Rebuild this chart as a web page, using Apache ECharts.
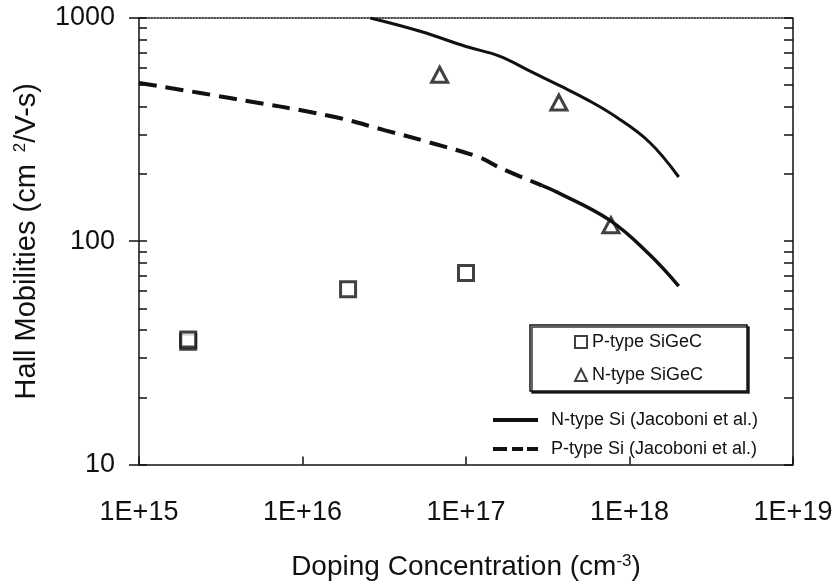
<!DOCTYPE html>
<html>
<head>
<meta charset="utf-8">
<script src="https://cdn.jsdelivr.net/npm/echarts@6/dist/echarts.min.js"></script>
<style>
  html, body { margin: 0; padding: 0; background: #fff; }
  #chart { width: 838px; height: 586px; }
</style>
</head>
<body>
<div id="chart"></div>
<script>
// measured points, SiGeC
var pSiGeCX = [2e15, 2e15, 1.9e16, 1e17];
var pSiGeCY = [35.5, 36.3, 61, 72];
var nSiGeCX = [6.9e16, 3.7e17, 7.7e17];
var nSiGeCY = [557, 418, 118];

// Jacoboni et al. curves for Si
var nSiX = [2.6e16, 5.3e16, 1.0e17, 1.6e17, 2.5e17, 3.8e17, 5.5e17, 8.3e17, 1.33e18, 2.0e18];
var nSiY = [1000, 870, 745, 675, 575, 495, 431, 360, 277, 194];
var pSiX = [1e15, 3.6e15, 1.5e16, 3.2e16, 6e16, 1.22e17, 1.6e17, 2.9e17];
var pSiY = [512, 438, 363, 314, 277, 237, 214, 178];
// tail of the P-type curve, drawn solid in the original
var pSiTailX = [2.9e17, 3.6e17, 7.6e17, 1.33e18, 2.0e18];
var pSiTailY = [178, 166, 124, 87, 63];

// axis ticks
var xTicks = [1e15, 1e16, 1e17, 1e18, 1e19];
var yMajor = [10, 100, 1000];
var yAll = [10, 20, 30, 40, 50, 60, 70, 80, 90, 100, 200, 300, 400, 500, 600, 700, 800, 900, 1000];

function pairs(xs, ys) {
  return xs.map(function (x, i) { return [x, ys[i]]; });
}

var font = "'Liberation Sans', Arial, sans-serif";
var ink = "#111";
var supX = { fontSize: 17, color: ink, fontFamily: font, verticalAlign: "top", padding: [0, 0, 12, 0] };
var supY = { fontSize: 17, color: ink, fontFamily: font, verticalAlign: "top", padding: [0, 0, 12, 4] };

var chart = echarts.init(document.getElementById("chart"));
chart.setOption({
  backgroundColor: "#fff",
  animation: false,
  textStyle: { fontFamily: font, color: ink },
  grid: { left: 139, right: 45, top: 18, bottom: 119 },
  legend: [
    {
      // boxed legend for the measured points
      data: ["P-type SiGeC", "N-type SiGeC"],
      orient: "vertical",
      left: 530,
      top: 325,
      padding: [8, 44, 7, 44],
      itemGap: 15,
      itemWidth: 12,
      itemHeight: 12,
      backgroundColor: "#fff",
      borderColor: ink,
      borderWidth: 1.5,
      shadowColor: "rgba(0,0,0,0.8)",
      shadowOffsetX: 2,
      shadowOffsetY: 2,
      shadowBlur: 0,
      textStyle: { fontSize: 18, color: ink, fontFamily: font }
    },
    {
      data: [
        { name: "N-type Si (Jacoboni et al.)", icon: "rect" },
        { name: "P-type Si (Jacoboni et al.)", icon: "path://M0,0h14v4h-14zM19,0h11v4h-11zM34,0h11v4h-11z" }
      ],
      orient: "vertical",
      left: 488,
      top: 406,
      itemGap: 11,
      itemWidth: 45,
      itemHeight: 4,
      textStyle: { fontSize: 18, color: ink, fontFamily: font, padding: [0, 0, 0, 8] }
    }
  ],
  xAxis: [
    {
      type: "log",
      logBase: 10,
      min: 1e15,
      max: 1e19,
      position: "bottom",
      name: "Doping Concentration (cm{sup|-3})",
      nameLocation: "middle",
      nameGap: 88,
      nameTextStyle: { fontSize: 28, color: ink, fontFamily: font, rich: { sup: supX } },
      axisLine: { show: true, lineStyle: { color: ink, width: 1.5 } },
      axisTick: { show: true, inside: true, length: 8, lineStyle: { color: ink, width: 1.5 }, customValues: xTicks },
      axisLabel: {
        fontSize: 27,
        color: ink,
        margin: 35,
        customValues: xTicks,
        formatter: function (v) { return "1E+" + Math.round(Math.log10(v)); }
      },
      splitLine: { show: false },
      minorTick: { show: false }
    },
    {
      // dotted top border
      type: "log",
      min: 1e15,
      max: 1e19,
      position: "top",
      axisLine: { show: true, lineStyle: { color: ink, width: 1.5, type: "dotted" } },
      axisTick: { show: false },
      axisLabel: { show: false },
      splitLine: { show: false }
    }
  ],
  yAxis: [
    {
      type: "log",
      logBase: 10,
      min: 10,
      max: 1000,
      position: "left",
      name: "Hall Mobilities (cm {sup|2}/V-s)",
      nameLocation: "middle",
      nameGap: 98,
      nameTextStyle: { fontSize: 29, color: ink, fontFamily: font, rich: { sup: supY } },
      axisLine: { show: true, lineStyle: { color: ink, width: 1.5 } },
      axisTick: { show: true, inside: true, length: 8, lineStyle: { color: ink, width: 1.5 }, customValues: yAll },
      axisLabel: {
        fontSize: 27,
        color: ink,
        margin: 24,
        customValues: yMajor,
        formatter: function (v) { return String(Math.round(v)); }
      },
      splitLine: { show: false }
    },
    {
      // outward major ticks on the left
      type: "log",
      min: 10,
      max: 1000,
      position: "left",
      axisLine: { show: false },
      axisTick: { show: true, inside: false, length: 10, lineStyle: { color: ink, width: 1.5 }, customValues: yMajor },
      axisLabel: { show: false },
      splitLine: { show: false }
    },
    {
      // right border with inward ticks
      type: "log",
      min: 10,
      max: 1000,
      position: "right",
      axisLine: { show: true, lineStyle: { color: ink, width: 1.5 } },
      axisTick: { show: true, inside: true, length: 9, lineStyle: { color: ink, width: 1.5 }, customValues: yAll },
      axisLabel: { show: false },
      splitLine: { show: false }
    }
  ],
  series: [
    {
      name: "P-type SiGeC",
      type: "scatter",
      symbol: "rect",
      symbolSize: 15,
      itemStyle: { color: "#fff", borderColor: ink, borderWidth: 3 },
      data: pairs(pSiGeCX, pSiGeCY)
    },
    {
      name: "N-type SiGeC",
      type: "scatter",
      symbol: "triangle",
      symbolSize: [16, 15],
      itemStyle: { color: "#fff", borderColor: ink, borderWidth: 3 },
      data: pairs(nSiGeCX, nSiGeCY)
    },
    {
      name: "N-type Si (Jacoboni et al.)",
      type: "line",
      smooth: 0.4,
      symbol: "none",
      lineStyle: { color: ink, width: 3 },
      itemStyle: { color: ink },
      data: pairs(nSiX, nSiY)
    },
    {
      name: "P-type Si (Jacoboni et al.)",
      type: "line",
      smooth: 0.4,
      symbol: "none",
      lineStyle: { color: ink, width: 4, type: [18, 9] },
      itemStyle: { color: ink },
      data: pairs(pSiX, pSiY)
    },
    {
      name: "P-type Si tail",
      type: "line",
      smooth: 0.4,
      symbol: "none",
      lineStyle: { color: ink, width: 3.5 },
      itemStyle: { color: ink },
      data: pairs(pSiTailX, pSiTailY)
    }
  ]
});
</script>
</body>
</html>
